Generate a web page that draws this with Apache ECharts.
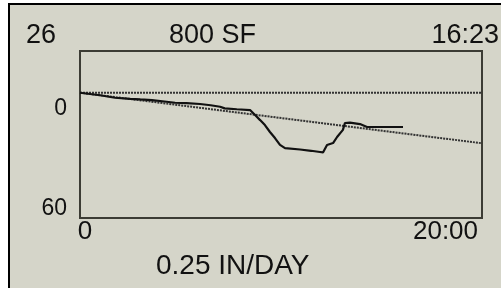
<!DOCTYPE html>
<html>
<head>
<meta charset="utf-8">
<script src="https://cdn.jsdelivr.net/npm/echarts@6/dist/echarts.min.js"></script>
<style>
  html, body { margin: 0; padding: 0; background: #fff; }
  #chart { width: 501px; height: 288px; }
</style>
</head>
<body>
<div id="chart"></div>
<script>
// readings taken off the panel
var headLeft = "26";
var headTitle = "800 SF";
var headClock = "16:23";
var footRate = "0.25 IN/DAY";

// elapsed hours / depth
var hours = [0, 0.5, 1.0, 1.74, 2.5, 3.0, 3.58, 4.2, 4.73, 5.3, 5.97, 6.5, 6.97, 7.2, 7.8, 8.46,
  8.71, 8.96, 9.2, 9.45, 9.7, 9.95, 10.2, 10.95, 11.5, 11.94, 12.09, 12.29, 12.59, 12.79,
  13.08, 13.18, 13.43, 13.93, 14.28, 15.0, 16.07];
var depth = [0, 0.6, 1.2, 2.4, 2.9, 3.2, 3.5, 4.2, 4.8, 5.0, 5.4, 6.0, 6.7, 7.5, 7.9, 8.3,
  10.7, 13.1, 15.5, 18.8, 21.7, 25.0, 26.5, 27.2, 27.8, 28.4, 28.6, 25.0, 24.1, 21.2,
  17.8, 14.5, 14.3, 15.0, 16.4, 16.4, 16.4];

// reference lines
var zeroHours = [0, 20];
var zeroDepth = [0, 0];
var trendHours = [0, 20];
var trendDepth = [0, 24.2];

var yTickLabels = { 0: "0", 60: "60" };
var xTickLabels = { 0: "0", 20: "20:00" };

function pairs(xs, ys) {
  var out = [];
  for (var i = 0; i < xs.length; i++) out.push([xs[i], ys[i]]);
  return out;
}

var bg = "#d5d5c9";
var ink = "#111";
var font = "Liberation Sans, Arial, sans-serif";

var chart = echarts.init(document.getElementById("chart"));
var option = {
  backgroundColor: "#fff",
  animation: false,
  graphic: [{
    type: "rect",
    z: -100,
    shape: { x: 9, y: 4, width: 600, height: 400 },
    style: { fill: bg, stroke: "#000", lineWidth: 2 }
  }],
  title: [
    { text: headLeft, left: 26, top: 22, padding: 0,
      textStyle: { fontFamily: font, fontSize: 27, fontWeight: "normal", color: ink, lineHeight: 27 } },
    { text: headTitle, left: 169, top: 22, padding: 0,
      textStyle: { fontFamily: font, fontSize: 27, fontWeight: "normal", color: ink, lineHeight: 27 } },
    { text: headClock, right: 2, top: 22, padding: 0,
      textStyle: { fontFamily: font, fontSize: 27, fontWeight: "normal", color: ink, lineHeight: 27 } },
    { text: footRate, left: 156, top: 252, padding: 0,
      textStyle: { fontFamily: font, fontSize: 28, fontWeight: "normal", color: ink, lineHeight: 28 } }
  ],
  grid: {
    left: 80, right: 19, top: 51, bottom: 70,
    show: true, borderColor: "#3c3c34", borderWidth: 2, backgroundColor: "transparent"
  },
  xAxis: {
    type: "value", min: 0, max: 20, interval: 20,
    axisLine: { show: false }, axisTick: { show: false }, splitLine: { show: false },
    axisLabel: {
      margin: 1,
      formatter: function (v) {
        if (v === 0) return "{l|" + xTickLabels[0] + "}";
        if (v === 20) return "{r|" + xTickLabels[20] + "}";
        return "";
      },
      rich: {
        l: { fontFamily: font, fontSize: 26, color: ink, padding: [0, 0, 0, 10] },
        r: { fontFamily: font, fontSize: 26, color: ink, padding: [0, 73, 0, 0] }
      }
    }
  },
  yAxis: {
    type: "value", min: -20, max: 60, interval: 20, inverse: true,
    axisLine: { show: false }, axisTick: { show: false }, splitLine: { show: false },
    axisLabel: {
      margin: 13,
      formatter: function (v) {
        if (v === 0) return "{t|" + yTickLabels[0] + "}";
        if (v === 60) return "{b|" + yTickLabels[60] + "}";
        return "";
      },
      rich: {
        t: { fontFamily: font, fontSize: 23, color: ink, padding: [32, 0, 0, 0] },
        b: { fontFamily: font, fontSize: 23, color: ink, padding: [0, 0, 18, 0] }
      }
    }
  },
  series: [
    {
      type: "line", data: pairs(zeroHours, zeroDepth), showSymbol: false, silent: true,
      lineStyle: { color: "#333", width: 2, type: [2, 1] }
    },
    {
      type: "line", data: pairs(trendHours, trendDepth), showSymbol: false, silent: true,
      lineStyle: { color: "#333", width: 2, type: [2, 1] }
    },
    {
      type: "line", data: pairs(hours, depth), showSymbol: false, silent: true,
      lineStyle: { color: ink, width: 2.2 }
    }
  ]
};
chart.setOption(option);
</script>
</body>
</html>
